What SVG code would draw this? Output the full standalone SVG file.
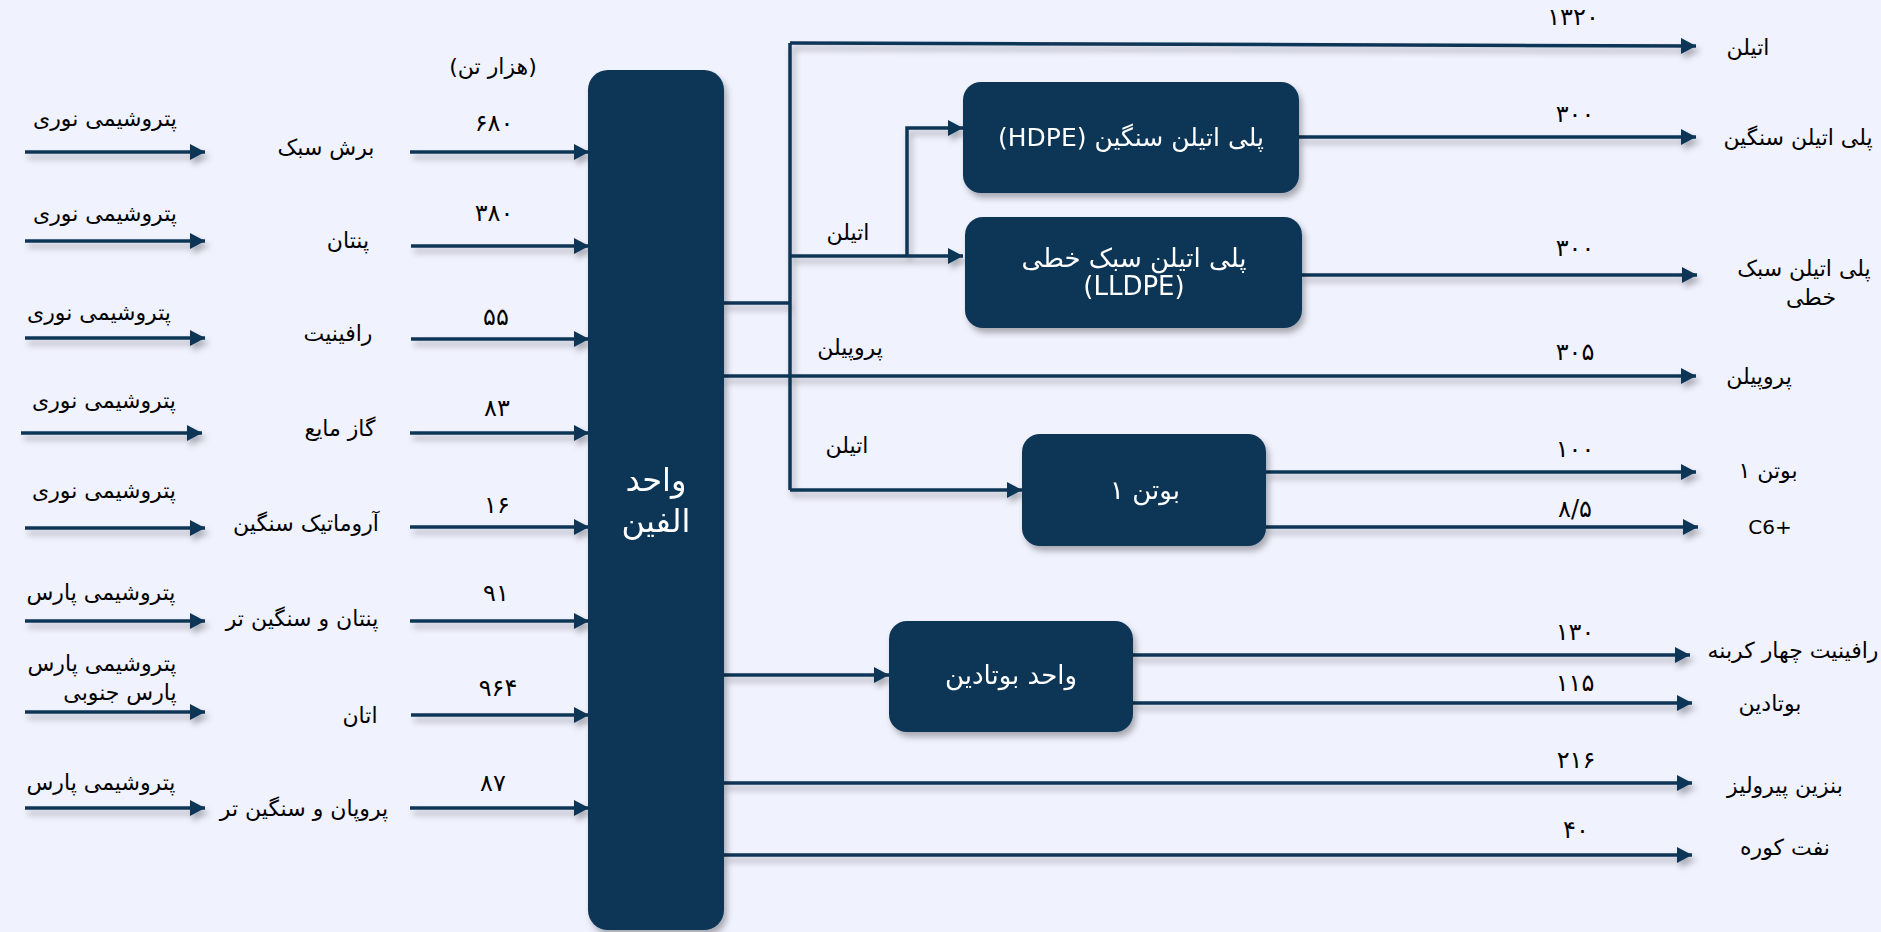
<svg xmlns="http://www.w3.org/2000/svg" width="1881" height="932" viewBox="0 0 1881 932">
<style>
.t{font-family:"DejaVu Sans",sans-serif;font-size:22px;fill:#000;text-anchor:middle;direction:rtl}
.n{font-family:"DejaVu Sans",sans-serif;font-size:24px;fill:#000;text-anchor:middle}
.lat{font-family:"DejaVu Sans",sans-serif;font-size:20px;fill:#000;text-anchor:middle}
.w{font-family:"DejaVu Sans",sans-serif;font-size:26px;fill:#fff;text-anchor:middle;direction:rtl}
.big{font-size:32px}
.box{fill:#0B3456}
.c{stroke:#0B3456;stroke-width:3.5;fill:none}
.a{marker-end:url(#ah)}
</style>
<defs>
<marker id="ah" markerUnits="userSpaceOnUse" markerWidth="16" markerHeight="16" refX="15" refY="8" orient="auto" viewBox="0 0 16 16">
<path d="M0,0 L15,8 L0,16 z" fill="#0B3456"/>
</marker>
<filter id="sh" filterUnits="userSpaceOnUse" x="0" y="0" width="1881" height="932">
<feDropShadow dx="3" dy="5" stdDeviation="3" flood-color="#000" flood-opacity="0.3"/>
</filter>
</defs>
<rect width="1881" height="932" fill="#F0F2FE"/>

<g id="connectors" filter="url(#sh)">
<line class="c a" x1="25" y1="152" x2="205" y2="152"/>
<line class="c a" x1="25" y1="241" x2="205" y2="241"/>
<line class="c a" x1="25" y1="338" x2="205" y2="338"/>
<line class="c a" x1="21" y1="433" x2="202" y2="433"/>
<line class="c a" x1="25" y1="528" x2="205" y2="528"/>
<line class="c a" x1="25" y1="621" x2="205" y2="621"/>
<line class="c a" x1="25" y1="712" x2="205" y2="712"/>
<line class="c a" x1="25" y1="808" x2="205" y2="808"/>
<line class="c a" x1="410" y1="152" x2="589" y2="152"/>
<line class="c a" x1="411" y1="246" x2="589" y2="246"/>
<line class="c a" x1="411" y1="339" x2="589" y2="339"/>
<line class="c a" x1="410" y1="433" x2="589" y2="433"/>
<line class="c a" x1="410" y1="527" x2="589" y2="527"/>
<line class="c a" x1="410" y1="621" x2="589" y2="621"/>
<line class="c a" x1="411" y1="715" x2="589" y2="715"/>
<line class="c a" x1="410" y1="808" x2="589" y2="808"/>
<line class="c" x1="724" y1="303" x2="790" y2="303"/>
<polyline class="c" points="790,490 790,43"/>
<polyline class="c a" points="790,43 1696,46"/>
<polyline class="c a" points="790,256 963,256"/>
<polyline class="c a" points="907,256 907,128 963,128"/>
<polyline class="c a" points="724,376 1696,376"/>
<polyline class="c a" points="790,490 1022,490"/>
<line class="c a" x1="1299" y1="137" x2="1696" y2="137"/>
<line class="c a" x1="1302" y1="275" x2="1697" y2="275"/>
<line class="c a" x1="1265" y1="472" x2="1696" y2="472"/>
<line class="c a" x1="1265" y1="527" x2="1698" y2="527"/>
<line class="c a" x1="724" y1="675" x2="889" y2="675"/>
<line class="c a" x1="1133" y1="655" x2="1690" y2="655"/>
<line class="c a" x1="1133" y1="703" x2="1692" y2="703"/>
<line class="c a" x1="724" y1="783" x2="1692" y2="783"/>
<line class="c a" x1="724" y1="855" x2="1692" y2="855"/>
</g>

<g id="olefin" filter="url(#sh)">
<rect class="box" x="588" y="70" width="136" height="860" rx="20"/>
<text class="w big" x="656" y="491">واحد</text>
<text class="w big" x="656" y="532">الفین</text>
</g>
<g id="hdpe" filter="url(#sh)">
<rect class="box" x="963" y="82" width="336" height="111" rx="18"/>
<text class="w" x="1131" y="146" style="font-size:25px">پلی اتیلن سنگین (HDPE)</text>
</g>
<g id="lldpe" filter="url(#sh)">
<rect class="box" x="965" y="217" width="337" height="111" rx="18"/>
<text class="w" x="1134" y="267">پلی اتیلن سبک خطی</text>
<text class="w" x="1134" y="295">(LLDPE)</text>
</g>
<g id="butene" filter="url(#sh)">
<rect class="box" x="1022" y="434" width="244" height="112" rx="18"/>
<text class="w" x="1145" y="499">بوتن ۱</text>
</g>
<g id="butadiene" filter="url(#sh)">
<rect class="box" x="889" y="621" width="244" height="111" rx="18"/>
<text class="w" x="1011" y="684">واحد بوتادین</text>
</g>

<g id="labels-left">
<text class="t" x="493" y="74">(هزار تن)</text>
<text class="t" x="105" y="126">پتروشیمی نوری</text>
<text class="t" x="105" y="221">پتروشیمی نوری</text>
<text class="t" x="99" y="320">پتروشیمی نوری</text>
<text class="t" x="104" y="408">پتروشیمی نوری</text>
<text class="t" x="104" y="498">پتروشیمی نوری</text>
<text class="t" x="101" y="600">پتروشیمی پارس</text>
<text class="t" x="102" y="671">پتروشیمی پارس</text>
<text class="t" x="120" y="700">پارس جنوبی</text>
<text class="t" x="101" y="790">پتروشیمی پارس</text>

<text class="t" x="326" y="155">برش سبک</text>
<text class="t" x="348" y="248">پنتان</text>
<text class="t" x="338" y="341">رافینیت</text>
<text class="t" x="340" y="436">گاز مایع</text>
<text class="t" x="306" y="531">آروماتیک سنگین</text>
<text class="t" x="302" y="626">پنتان و سنگین تر</text>
<text class="t" x="360" y="723">اتان</text>
<text class="t" x="304" y="816">پروپان و سنگین تر</text>

<text class="n" x="494" y="131">۶۸۰</text>
<text class="n" x="494" y="221">۳۸۰</text>
<text class="n" x="496" y="325">۵۵</text>
<text class="n" x="497" y="416">۸۳</text>
<text class="n" x="497" y="513">۱۶</text>
<text class="n" x="496" y="601">۹۱</text>
<text class="n" x="498" y="696">۹۶۴</text>
<text class="n" x="493" y="791">۸۷</text>
</g>

<g id="labels-right">
<text class="t" x="848" y="240">اتیلن</text>
<text class="t" x="850" y="355">پروپیلن</text>
<text class="t" x="847" y="453">اتیلن</text>

<text class="n" x="1573" y="25">۱۳۲۰</text>
<text class="n" x="1575" y="122">۳۰۰</text>
<text class="n" x="1575" y="256">۳۰۰</text>
<text class="n" x="1575" y="360">۳۰۵</text>
<text class="n" x="1575" y="457">۱۰۰</text>
<text class="n" x="1575" y="517">۸/۵</text>
<text class="n" x="1575" y="640">۱۳۰</text>
<text class="n" x="1575" y="691">۱۱۵</text>
<text class="n" x="1576" y="768">۲۱۶</text>
<text class="n" x="1576" y="838">۴۰</text>

<text class="t" x="1748" y="55">اتیلن</text>
<text class="t" x="1798" y="145">پلی اتیلن سنگین</text>
<text class="t" x="1804" y="276">پلی اتیلن سبک</text>
<text class="t" x="1811" y="305">خطی</text>
<text class="t" x="1759" y="384">پروپیلن</text>
<text class="t" x="1768" y="478">بوتن ۱</text>
<text class="lat" x="1770" y="534">C6+</text>
<text class="t" x="1793" y="658">رافینیت چهار کربنه</text>
<text class="t" x="1770" y="711">بوتادین</text>
<text class="t" x="1785" y="793">بنزین پیرولیز</text>
<text class="t" x="1785" y="855">نفت کوره</text>
</g>
</svg>
